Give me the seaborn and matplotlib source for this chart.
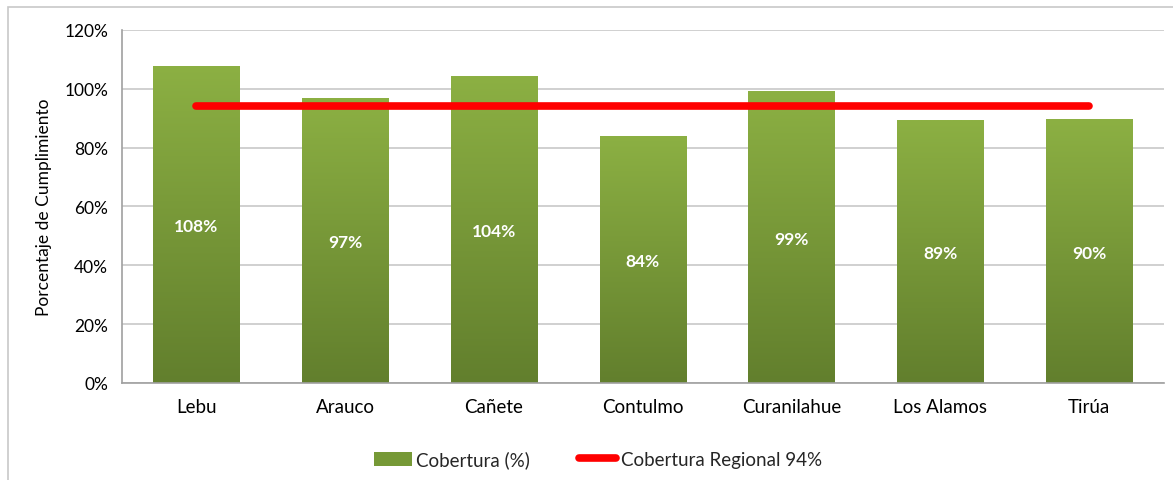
import numpy as np
import pandas as pd
import matplotlib
matplotlib.use("Agg")
import matplotlib.pyplot as plt
from matplotlib.colors import LinearSegmentedColormap
from matplotlib.patches import Rectangle
from matplotlib.lines import Line2D
from matplotlib.ticker import PercentFormatter
import seaborn as sns

# ---- data ----
comunas = ["Lebu", "Arauco", "Cañete", "Contulmo", "Curanilahue", "Los Alamos", "Tirúa"]
cobertura = [107.8, 96.9, 104.3, 84.0, 99.2, 89.4, 89.6]
regional = 94
y_ticks = [0, 20, 40, 60, 80, 100, 120]

sns.set_theme(style="white")
plt.rcParams['font.family'] = ['Lato', 'DejaVu Sans']

fig = plt.figure(figsize=(11.73, 4.81), dpi=100)
ax = fig.add_axes([0.104, 0.2017, 0.888, 0.7339])

df = pd.DataFrame({"comuna": comunas, "cobertura": cobertura})
sns.barplot(data=df, x="comuna", y="cobertura", color="#7A9C38", width=0.58,
            saturation=1, ax=ax, zorder=2, edgecolor="none")

# gradient fill for bars
cmap = LinearSegmentedColormap.from_list("g", ["#627F2D", "#8CB043"])
grad = np.linspace(0, 1, 256).reshape(-1, 1)
for p in list(ax.patches):
    x0, y0 = p.get_x(), p.get_y()
    w, h = p.get_width(), p.get_height()
    im = ax.imshow(grad, cmap=cmap, origin="lower", aspect="auto",
                   extent=(x0, x0 + w, y0, y0 + h), zorder=2.1)
    im.set_clip_path(p)
    ax.text(x0 + w / 2, h / 2, f"{h:.0f}%", ha="center", va="center_baseline",
            color="white", fontsize=12.5, fontweight="bold", zorder=4)

sns.lineplot(x=np.arange(len(comunas)), y=[regional] * len(comunas), color="#FF0000",
             linewidth=5.5, ax=ax, zorder=3, solid_capstyle="round")

ax.set_xlim(-0.5, len(comunas) - 0.5)
ax.set_ylim(0, 120)
ax.set_yticks(y_ticks)
ax.yaxis.set_major_formatter(PercentFormatter(decimals=0))
ax.set_xticks(range(len(comunas)))
ax.set_xticklabels(comunas)
ax.grid(axis="y", color="#C8C8C8", linewidth=1.2, zorder=0)
ax.set_axisbelow(True)
for s in ["top", "right"]:
    ax.spines[s].set_visible(False)
for s in ["left", "bottom"]:
    ax.spines[s].set_color("#A0A0A0")
    ax.spines[s].set_linewidth(1.2)
ax.tick_params(axis="x", labelsize=13.5, colors="#000000", length=0, pad=11)
ax.tick_params(axis="y", labelsize=12.5, colors="#000000", length=0, pad=10)
ax.set_xlabel("")
ax.set_ylabel("Porcentaje de Cumplimiento", fontsize=12.5, labelpad=9, color="#000000")

handles = [Rectangle((0, 0), 1, 1, facecolor="#769936", edgecolor="none"),
           Line2D([0], [0], color="#FF0000", linewidth=5.5, solid_capstyle="round")]
fig.legend(handles, ["Cobertura (%)", "Cobertura Regional 94%"], loc="center",
           bbox_to_anchor=(0.51, 0.043), ncol=2, frameon=False, fontsize=13.5,
           handlelength=2.0, handleheight=0.8, columnspacing=2.6, handletextpad=0.25)

# outer chart frame
fig.patches.append(Rectangle((8 / 1173, -0.1), 1.2, (481 - 8) / 481 + 0.1,
                             transform=fig.transFigure, fill=False,
                             edgecolor="#C8C8C8", linewidth=1.2))

fig.savefig("out.png", dpi=100)
